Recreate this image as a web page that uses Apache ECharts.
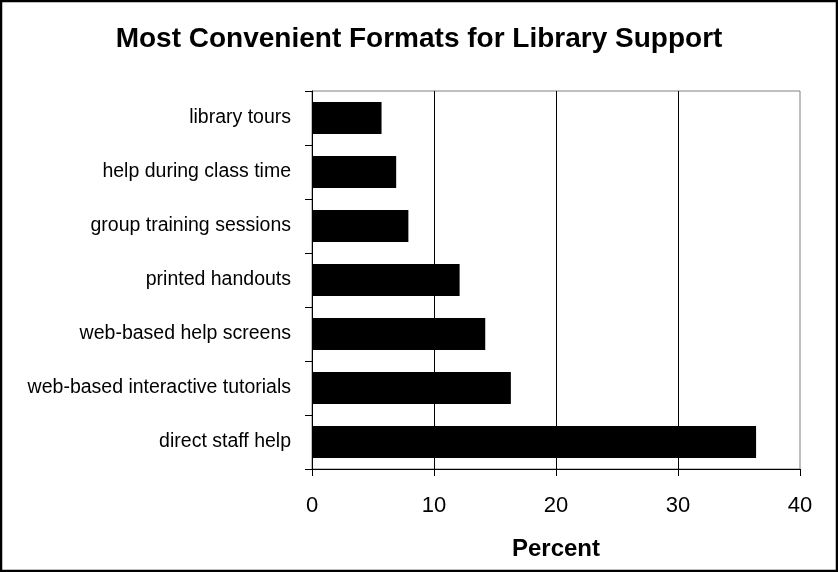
<!DOCTYPE html>
<html>
<head>
<meta charset="utf-8">
<script src="https://cdn.jsdelivr.net/npm/echarts@6/dist/echarts.min.js"></script>
<style>
  html, body { margin: 0; padding: 0; background: #fff; }
  #chart { width: 838px; height: 572px; }
</style>
</head>
<body>
<div id="chart"></div>
<script>
// Survey results: preferred formats for library support (percent of respondents)
const categories = [
  'library tours',
  'help during class time',
  'group training sessions',
  'printed handouts',
  'web-based help screens',
  'web-based interactive tutorials',
  'direct staff help'
];
const percentValues = [5.7, 6.9, 7.9, 12.1, 14.2, 16.3, 36.4];
const xTicks = [0, 10, 20, 30, 40];

const chart = echarts.init(document.getElementById('chart'), null, { renderer: 'canvas' });
const FONT = '"Liberation Sans", Arial, sans-serif';

chart.setOption({
  animation: false,
  backgroundColor: '#ffffff',
  title: {
    text: 'Most Convenient Formats for Library Support',
    left: 'center',
    top: 20,
    textStyle: { fontFamily: FONT, fontSize: 28, fontWeight: 'bold', color: '#000' }
  },
  graphic: [{
    type: 'rect',
    shape: { x: 1, y: 1, width: 836, height: 570 },
    style: { fill: 'none', stroke: '#000', lineWidth: 2.5 },
    silent: true,
    z: 100
  }],
  grid: {
    left: 312, right: 38, top: 91, bottom: 103,
    show: true,
    borderColor: '#808080',
    borderWidth: 1,
    backgroundColor: '#fff'
  },
  xAxis: {
    type: 'value',
    min: xTicks[0],
    max: xTicks[xTicks.length - 1],
    interval: xTicks[1] - xTicks[0],
    name: 'Percent',
    nameLocation: 'middle',
    nameGap: 68,
    nameTextStyle: { fontFamily: FONT, fontSize: 24, fontWeight: 'bold', color: '#000' },
    axisLine: { show: true, lineStyle: { color: '#000', width: 1 } },
    axisTick: { show: true, inside: false, length: 7, lineStyle: { color: '#000' } },
    axisLabel: { fontFamily: FONT, fontSize: 22, color: '#000', margin: 26 },
    splitLine: { show: true, showMinLine: false, showMaxLine: false, lineStyle: { color: '#000', width: 1 } }
  },
  yAxis: {
    type: 'category',
    data: categories,
    inverse: true,
    axisLine: { show: true, lineStyle: { color: '#000', width: 1 } },
    axisTick: { show: true, inside: false, length: 7, alignWithLabel: false, lineStyle: { color: '#000' } },
    axisLabel: { fontFamily: FONT, fontSize: 19.5, color: '#000', margin: 21 },
    splitLine: { show: false }
  },
  series: [{
    type: 'bar',
    data: percentValues,
    barCategoryGap: '41%',
    itemStyle: { color: '#000' }
  }]
});
</script>
</body>
</html>
